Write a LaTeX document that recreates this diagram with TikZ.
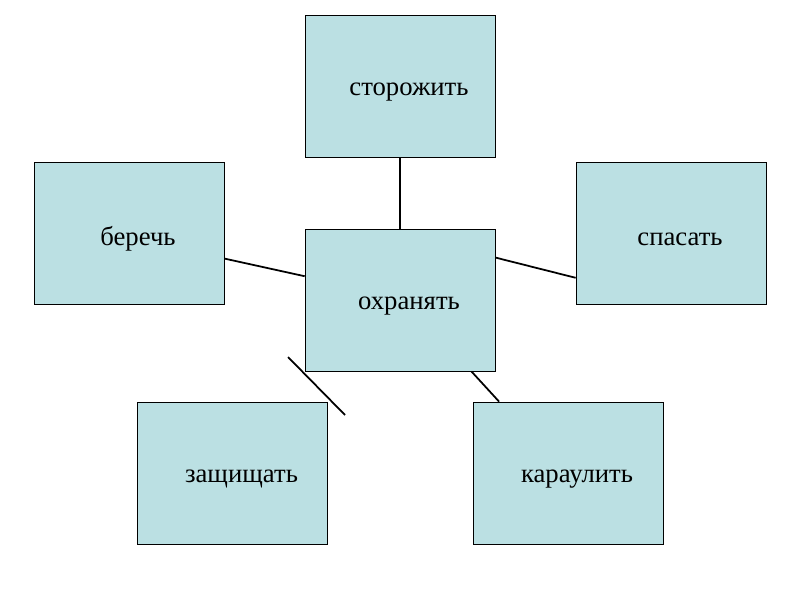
\documentclass[tikz,border=0pt]{standalone}
\usepackage{fontspec}
\setmainfont{Liberation Serif}
\usetikzlibrary{positioning}
\definecolor{boxfill}{RGB}{187,224,227}
\newcommand{\wrd}[1]{\hspace*{0.54cm}\raisebox{-0.17cm}[\height][\depth]{#1}}

\begin{document}
\begin{tikzpicture}[box/.style={draw, line width=0.6pt, fill=boxfill, minimum width=5.7cm, minimum height=4.26cm, inner sep=0pt, font=\fontsize{22.8}{27}\selectfont},
    link/.style={line width=1.5pt}]
            \useasboundingbox (0,0) rectangle (24,18);
            % Draw the boxes
            \node[box] (storozh) at (12.0,15.42) {\wrd{сторожить}};
            \node[box] (berech) at (3.87,11.01) {\wrd{беречь}};
            \node[box] (spasat) at (20.13,11.0) {\wrd{спасать}};
            \node[box] (okhran) at (12.0,9.0) {\wrd{охранять}};
            \node[box] (zashch) at (6.975,3.81) {\wrd{защищать}};
            \node[box] (karaul) at (17.04,3.81) {\wrd{караулить}};

            % Draw the links
            \draw[link] (storozh.south) -- (okhran.north);
            \draw[link] (berech.-15) -- (okhran.166);
            \draw[link] (okhran.24) -- (spasat.205);
            \draw[link] (okhran.-45) -- (karaul.134);

            % Draw the loose stroke
            \coordinate (s1) at (8.64,7.29);
            \coordinate (s2) at (10.35,5.55);
            \draw[link] (s1) -- (s2);
        \end{tikzpicture}
\end{document}
